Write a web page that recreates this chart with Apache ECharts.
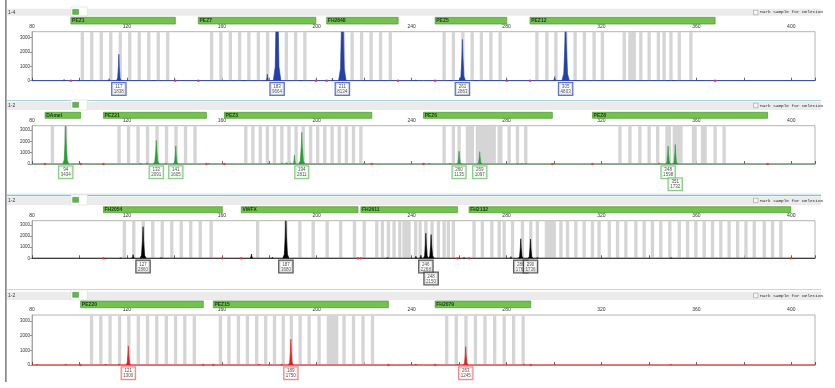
<!DOCTYPE html>
<html><head><meta charset="utf-8">
<script src="https://cdn.jsdelivr.net/npm/echarts@6/dist/echarts.min.js"></script>
<style>html,body{margin:0;padding:0;background:#fff}#c{width:835px;height:388px}</style>
</head><body><div id="c"></div>
<script>
// ---------- axis ticks ----------
const xLabelValues = [80, 120, 160, 200, 240, 280, 320, 360, 400];
const yLabelValues = [0, 1000, 2000, 3000];
const X_MIN = 80, X_MAX = 410, Y_MAX = 3400;

// ---------- panel 1 (blue) ----------
const p1Markers = [['PEZ1', 96.4, 140.4], ['PEZ7', 150.1, 199.6], ['FH2848', 204.2, 234.3], ['PEZ5', 249.9, 280.1], ['PEZ12', 289.9, 367.9]];
const p1Bins = [101.2, 105.2, 109.2, 113.2, 117.2, 121.2, 125.2, 129.2, 133.2, 137.2,
  155.7, 159.6, 163.6, 167.5, 171.4, 175.4, 179.3, 183.2, 187.2, 191.1, 195.0,
  211.3, 214.9, 218.9, 222.9, 226.9, 231.0,
  253.7, 257.6, 261.6, 265.5, 269.4, 273.4, 277.3,
  292.8, 297.0, 300.8, 305.0, 308.9, 312.8, 316.9, 320.4, 329.6, 336.6, 340.1, 344.0, 346.4, 349.3, 352.8, 357.7];
const p1Blocks = [[331.3, 334.5]];
const p1Called = [[116.6, 1838], [183.3, 9664], [210.8, 8134], [261.4, 2863], [304.9, 4803]];
const p1Minor = [[179.2, 460], [206.6, 180], [300.3, 280]];
const p1Noise = [[93.5, 90], [99.8, 50], [112.5, 140], [131.4, 50], [169.4, 40], [193.3, 40], [241.7, 60], [256.5, 40], [267, 40], [309.2, 50], [347.9, 35], [350.4, 35]];

// ---------- panel 2 (green) ----------
const p2Markers = [['DAmel', 85.5, 100.5], ['PEZ21', 110.1, 153.5], ['PEZ3', 161.1, 223.2], ['PEZ6', 245.0, 299.3], ['PEZ8', 316.2, 390.0]];
const p2Bins = [88.6, 94.2,
  116.7, 120.7, 124.7, 128.7, 132.7, 136.7, 140.7, 144.7, 148.7,
  170.1, 173.1, 176.2, 179.2, 182.2, 185.3, 188.3, 191.3, 194.3, 197.4, 200.4, 203.4, 206.5, 209.5, 212.5, 215.5, 218.6,
  253.7, 257.6, 260.0, 281.1, 284.6, 288.1,
  327.8, 332.0, 336.2, 340.1, 343.7, 367.9, 371.7];
const p2Blocks = [[262.8, 266.3], [267.0, 275.5], [276.2, 278.3], [346.9, 349.3], [350.0, 354.2], [358.1, 360.2], [361.9, 364.4]];
const p2Called = [[94.2, 3434], [132.4, 2091], [140.6, 1605], [193.7, 2811], [260.0, 1135], [268.7, 1097], [348.1, 1598], [351.1, 1732]];
const p2Minor = [[190.6, 780], [128.6, 100], [344.3, 100], [256.2, 80]];
const p2Noise = [[125.8, 60], [136.4, 90], [154.6, 50], [179.6, 50], [185.4, 90], [187.3, 130], [189.0, 110], [220, 40], [245, 50], [247.4, 50], [284.8, 50], [286.5, 50], [288.2, 50]];

// ---------- panel 3 (black) ----------
const p3Markers = [['FH2054', 110.1, 160.2], ['VWFX', 168.2, 217.4], ['FH2611', 218.6, 259.3], ['FH2132', 264.2, 399.8]];
const p3Bins = [118.9, 122.9, 126.9, 130.9, 134.9, 138.9, 142.9, 146.9, 150.9, 155.5,
  175.1, 187.0, 192.9, 198.5, 204.4, 210.1, 215.9,
  220.0, 225.3, 227.7, 230.2, 232.6, 235.0, 241.7, 243.6, 246.0, 248.6, 251.3, 253.7, 255.5, 257.6,
  266.3, 269.8, 273.8, 276.9, 279.0, 282.5, 286.7, 290.2, 293.0, 302.9, 305.7, 309.2, 312.7, 316.2, 319.0, 323.3, 326.8,
  330.3, 334.5, 338.0, 341.5, 345.0, 348.8, 352.8, 356.3, 359.8, 363.3, 366.8, 370.3, 373.8, 377.4, 380.9, 384.4, 388.6, 392.1, 395.6];
const p3Blocks = [[236.1, 239.6], [296.1, 300.8]];
const p3Called = [[126.8, 2860], [187.0, 3680], [246.0, 2268], [248.2, 2150], [286.0, 1768], [290.1, 1736]];
const p3Minor = [[122.6, 330], [172.5, 380], [181.3, 90], [241.8, 180], [243.9, 280], [281.8, 150]];
const p3Noise = [[117.4, 40], [134.5, 40], [229.8, 40], [262.1, 50], [293.0, 70], [349.3, 40]];

// ---------- panel 4 (red) ----------
const p4Markers = [['PEZ20', 100.5, 152.2], ['PEZ15', 156.4, 230.2], ['FH2079', 249.9, 290.2]];
const p4Bins = [105.1, 109.0, 112.9, 116.9, 120.8, 124.8, 128.7, 132.6, 136.6, 140.5, 144.4, 148.4,
  159.4, 163.0, 167.0, 170.8, 174.7, 178.5, 182.2, 185.9, 189.3, 193.0, 196.8, 201.0, 211.5, 215.5, 219.5, 223.5,
  254.8, 258.8, 262.9, 266.9, 270.9, 275.0, 279.0, 283.0, 287.0];
const p4Blocks = [[204.2, 209.1]];
const p4Called = [[120.6, 1300], [189.1, 1750], [262.8, 1245]];
const p4Minor = [[116.7, 60], [185.3, 50]];
const p4Noise = [[82.2, 30], [94.2, 40], [111.1, 50], [175.7, 50], [241.7, 70], [259.3, 40], [287.4, 50], [349.3, 35]];

const panelTitles = ['1-4', '1-2', '1-2', '1-2'];

// ---------- layout / style (not data) ----------
const panels = [
  { markers: p1Markers, bins: p1Bins, blocks: p1Blocks, called: p1Called, minor: p1Minor, noise: p1Noise,
    color: '#2440a6', box: '#3a56b0', top: 31.7, h: 49, stripTop: 17.3, stripH: 6.7, band: [8.8, 7] },
  { markers: p2Markers, bins: p2Bins, blocks: p2Blocks, called: p2Called, minor: p2Minor, noise: p2Noise,
    color: '#2a9e36', box: '#6cc46c', top: 125.7, h: 38.3, stripTop: 112.3, stripH: 6, band: [101.7, 8.3] },
  { markers: p3Markers, bins: p3Bins, blocks: p3Blocks, called: p3Called, minor: p3Minor, noise: p3Noise,
    color: '#000000', box: '#333333', top: 220.7, h: 37.6, stripTop: 206.7, stripH: 6, band: [196.7, 8.3] },
  { markers: p4Markers, bins: p4Bins, blocks: p4Blocks, called: p4Called, minor: p4Minor, noise: p4Noise,
    color: '#e01e1e', box: '#f07070', top: 315, h: 50, stripTop: 301, stripH: 6.7, band: [291.7, 8.3] }
];

// half-widths of each peak (drawing style), limited so neighbours do not overlap
function peakItems(peaks) {
  const s = peaks.slice().sort((a, b) => a[0] - b[0]);
  return s.map((p, i) => {
    const c = p[0], h = p[1];
    const w = h > 4000 ? 1.6 : h > 2000 ? 1.3 : h > 800 ? 1.0 : h > 200 ? 0.7 : 0.45;
    const prev = i > 0 ? s[i - 1][0] : -1e9;
    const next = i < s.length - 1 ? s[i + 1][0] : 1e9;
    return [c, h, Math.min(w, (c - prev) / 2 - 0.02), Math.min(w, (next - c) / 2 - 0.02)];
  });
}

const grids = [], xAxes = [], yAxes = [], series = [], graphics = [];
const FONT = 'Liberation Sans, Arial, sans-serif';

panels.forEach((P, i) => {
  const gPlot = grids.length;
  grids.push({ left: 32, right: 20, top: P.top, height: P.h, show: true, borderColor: '#a0a0a0', borderWidth: 0.8, backgroundColor: '#fff' });
  xAxes.push({ gridIndex: gPlot, type: 'value', min: X_MIN, max: X_MAX, interval: 20, position: 'top',
    axisLine: { show: true, lineStyle: { color: '#999', width: 0.8 } },
    axisTick: { show: true, length: 3, lineStyle: { color: '#444', width: 0.8 } },
    axisLabel: { fontSize: 5, color: '#333', margin: 2.5, fontFamily: FONT, formatter: v => xLabelValues.includes(v) ? String(v) : '' },
    splitLine: { show: false } });
  yAxes.push({ gridIndex: gPlot, type: 'value', min: 0, max: Y_MAX, interval: 1000,
    axisLine: { show: true, lineStyle: { color: '#999', width: 0.8 } },
    axisTick: { show: true, length: 2, lineStyle: { color: '#555', width: 0.6 } },
    axisLabel: { fontSize: 4.5, color: '#333', margin: 2, fontFamily: FONT, showMaxLabel: false,
      formatter: v => yLabelValues.includes(v) ? String(v) : '' },
    splitLine: { show: false } });

  const gStrip = grids.length;
  grids.push({ left: 32, right: 20, top: P.stripTop, height: P.stripH });
  xAxes.push({ gridIndex: gStrip, type: 'value', min: X_MIN, max: X_MAX, show: false });
  yAxes.push({ gridIndex: gStrip, type: 'value', min: 0, max: 1, show: false });

  // bins
  const binAreas = P.bins.map(c => [{ xAxis: c - 0.7 }, { xAxis: c + 0.7 }])
    .concat(P.blocks.map(b => [{ xAxis: b[0] }, { xAxis: b[1] }]));
  series.push({ type: 'line', xAxisIndex: gPlot, yAxisIndex: gPlot, data: [], z: 1, silent: true,
    markArea: { silent: true, itemStyle: { color: '#d5d5d5' }, data: binAreas } });

  // baseline of the trace
  series.push({ type: 'line', xAxisIndex: gPlot, yAxisIndex: gPlot, data: [[X_MIN, 0], [X_MAX, 0]], z: 3,
    symbol: 'none', silent: true, lineStyle: { color: P.color, width: 1 } });

  // peaks of the trace
  const col = P.color;
  series.push({ type: 'custom', xAxisIndex: gPlot, yAxisIndex: gPlot, z: 4, silent: true, clip: true,
    data: peakItems(P.called.concat(P.minor, P.noise)),
    encode: { x: 0, y: 1 },
    renderItem: function (params, api) {
      const c = api.value(0), h = api.value(1), wl = api.value(2), wr = api.value(3);
      const rel = [[c - wl, 0], [c - wl * 0.5, h * 0.1], [c - wl * 0.18, h * 0.55], [c, h],
        [c + wr * 0.18, h * 0.55], [c + wr * 0.5, h * 0.1], [c + wr, 0]];
      const pts = rel.map(p => api.coord(p));
      return { type: 'polygon', shape: { points: pts },
        style: { fill: col, stroke: col, lineWidth: 0.6 } };
    } });

  // marker edge dots
  const edges = [];
  P.markers.forEach(m => { edges.push([m[1], 0], [m[2], 0]); });
  series.push({ type: 'scatter', xAxisIndex: gPlot, yAxisIndex: gPlot, data: edges, symbolSize: 2.6, z: 5, silent: true,
    itemStyle: { color: '#ff2a2a' } });

  // peak labels
  const sortedCalled = P.called.slice().sort((a, b) => a[0] - b[0]);
  const lab = sortedCalled.map((p, k) => {
    const stacked = k > 0 && (p[0] - sortedCalled[k - 1][0]) < 3.5;
    return { value: [p[0], 0], txt: Math.round(p[0]) + '\n' + p[1], label: { offset: [0, stacked ? 12 : 0] } };
  });
  series.push({ type: 'scatter', xAxisIndex: gPlot, yAxisIndex: gPlot, data: lab, symbolSize: 1, z: 10, clip: false, silent: true,
    itemStyle: { color: 'rgba(0,0,0,0)' },
    label: { show: true, position: 'bottom', distance: 2, formatter: p => p.data.txt, fontSize: 4.5, lineHeight: 5,
      color: '#222', fontFamily: FONT, backgroundColor: '#fff', borderColor: P.box, borderWidth: 1.3, padding: [1, 1.5, 0.5, 1.5] } });

  // marker strip
  series.push({ type: 'line', xAxisIndex: gStrip, yAxisIndex: gStrip, data: [], silent: true,
    markArea: { silent: true, itemStyle: { color: '#72c24d', borderColor: '#4c9a33', borderWidth: 0.7 },
      label: { show: true, position: 'insideLeft', fontSize: 5, color: '#173a10', distance: 1.5, fontFamily: FONT, fontWeight: 'bold' },
      data: P.markers.map(m => [{ name: m[0], xAxis: m[1] }, { xAxis: m[2] }]) } });

  // header band
  const by = P.band[0], bh = P.band[1];
  graphics.push({ type: 'rect', shape: { x: 7, y: by, width: 814, height: bh }, style: { fill: '#ebebeb' }, silent: true, z: 0 });
  graphics.push({ type: 'text', x: 8, y: by + bh / 2, style: { text: panelTitles[i], fontSize: 5, fill: '#333', fontFamily: FONT, verticalAlign: 'middle' }, silent: true, z: 1 });
  graphics.push({ type: 'rect', shape: { x: 71, y: by - 1.8, width: 16.3, height: bh + 1.8 }, style: { fill: '#fff', stroke: '#dcdcdc', lineWidth: 0.6 }, silent: true, z: 1 });
  graphics.push({ type: 'rect', shape: { x: 72.7, y: by + 0.6, width: 5.8, height: 5 }, style: { fill: '#5cba4c', stroke: '#3c8c30', lineWidth: 0.5 }, silent: true, z: 2 });
  graphics.push({ type: 'rect', shape: { x: 753.5, y: by + 1.5, width: 4.5, height: 4.5 }, style: { fill: '#f6f6f6', stroke: '#8a8a8a', lineWidth: 0.5 }, silent: true, z: 2 });
  graphics.push({ type: 'text', x: 760, y: by + bh / 2, style: { text: 'Mark Sample for Deletion', fontSize: 4.4, fill: '#222', fontFamily: 'Liberation Mono, DejaVu Sans Mono, monospace', verticalAlign: 'middle' }, silent: true, z: 2 });
});

// frame lines
graphics.push({ type: 'rect', shape: { x: 5, y: 0, width: 1.7, height: 382 }, style: { fill: '#8a8a8a' }, silent: true });
graphics.push({ type: 'line', shape: { x1: 7, y1: 100.5, x2: 821, y2: 100.5 }, style: { stroke: '#a6d3dc', lineWidth: 1 }, silent: true });
graphics.push({ type: 'line', shape: { x1: 7, y1: 194.2, x2: 821, y2: 194.2 }, style: { stroke: '#c6e2e6', lineWidth: 1 }, silent: true });
graphics.push({ type: 'line', shape: { x1: 7, y1: 195.6, x2: 821, y2: 195.6 }, style: { stroke: '#7cbec6', lineWidth: 1 }, silent: true });
graphics.push({ type: 'line', shape: { x1: 7, y1: 289.6, x2: 821, y2: 289.6 }, style: { stroke: '#cfcfcf', lineWidth: 1 }, silent: true });

const chart = echarts.init(document.getElementById('c'), null, { renderer: 'canvas' });
chart.setOption({
  animation: false,
  backgroundColor: '#fff',
  grid: grids, xAxis: xAxes, yAxis: yAxes, series: series, graphic: graphics
});
</script></body></html>
